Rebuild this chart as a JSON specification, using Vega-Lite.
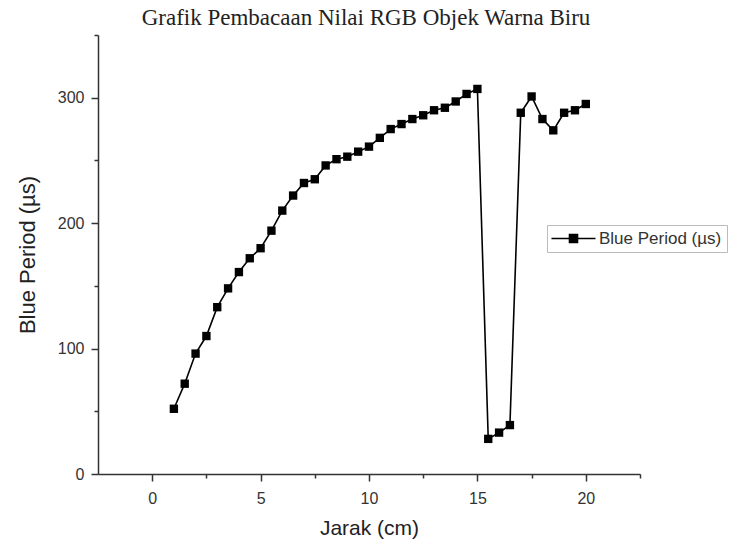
{
  "$schema": "https://vega.github.io/schema/vega-lite/v6.json",
  "width": 542,
  "height": 439,
  "autosize": "none",
  "padding": {"left": 98, "top": 35, "right": 91, "bottom": 69},
  "background": "white",
  "title": {
    "text": "Grafik Pembacaan Nilai RGB Objek Warna Biru",
    "font": "Liberation Serif",
    "fontSize": 23,
    "fontWeight": "normal",
    "color": "#222222",
    "anchor": "middle",
    "offset": 4,
    "dx": -3
  },
  "config": {
    "view": {"stroke": null},
    "axis": {
      "grid": false,
      "domainColor": "#333333",
      "domainWidth": 1.5,
      "tickColor": "#333333",
      "tickWidth": 1.5,
      "labelColor": "#333333",
      "labelFont": "Liberation Sans",
      "labelFontSize": 16,
      "titleColor": "#222222",
      "titleFont": "Liberation Sans",
      "titleFontWeight": "normal"
    }
  },
  "data": {
    "values": [
      {"jarak": 1, "blue": 52},
      {"jarak": 1.5, "blue": 72},
      {"jarak": 2, "blue": 96},
      {"jarak": 2.5, "blue": 110},
      {"jarak": 3, "blue": 133},
      {"jarak": 3.5, "blue": 148},
      {"jarak": 4, "blue": 161},
      {"jarak": 4.5, "blue": 172},
      {"jarak": 5, "blue": 180},
      {"jarak": 5.5, "blue": 194},
      {"jarak": 6, "blue": 210},
      {"jarak": 6.5, "blue": 222},
      {"jarak": 7, "blue": 232},
      {"jarak": 7.5, "blue": 235},
      {"jarak": 8, "blue": 246},
      {"jarak": 8.5, "blue": 251},
      {"jarak": 9, "blue": 253},
      {"jarak": 9.5, "blue": 257},
      {"jarak": 10, "blue": 261},
      {"jarak": 10.5, "blue": 268},
      {"jarak": 11, "blue": 275},
      {"jarak": 11.5, "blue": 279},
      {"jarak": 12, "blue": 283},
      {"jarak": 12.5, "blue": 286},
      {"jarak": 13, "blue": 290},
      {"jarak": 13.5, "blue": 292},
      {"jarak": 14, "blue": 297},
      {"jarak": 14.5, "blue": 303},
      {"jarak": 15, "blue": 307},
      {"jarak": 15.5, "blue": 28},
      {"jarak": 16, "blue": 33},
      {"jarak": 16.5, "blue": 39},
      {"jarak": 17, "blue": 288},
      {"jarak": 17.5, "blue": 301},
      {"jarak": 18, "blue": 283},
      {"jarak": 18.5, "blue": 274},
      {"jarak": 19, "blue": 288},
      {"jarak": 19.5, "blue": 290},
      {"jarak": 20, "blue": 295}
    ]
  },
  "encoding": {
    "x": {
      "field": "jarak",
      "type": "quantitative",
      "scale": {"domain": [-2.5, 22.5], "nice": false, "zero": false},
      "axis": {
        "title": "Jarak (cm)",
        "titleFontSize": 21,
        "titlePadding": 11,
        "values": [0, 2.5, 5, 7.5, 10, 12.5, 15, 17.5, 20, 22.5],
        "labelExpr": "datum.value % 5 === 0 ? datum.label : ''",
        "tickSize": {"condition": {"test": "datum.value % 5 === 0", "value": 7}, "value": 4},
        "labelPadding": 9
      }
    },
    "y": {
      "field": "blue",
      "type": "quantitative",
      "scale": {"domain": [0, 350], "nice": false},
      "axis": {
        "title": "Blue Period (µs)",
        "titleFontSize": 22,
        "titlePadding": 18,
        "values": [0, 50, 100, 150, 200, 250, 300, 350],
        "labelExpr": "datum.value % 100 === 0 ? datum.label : ''",
        "tickSize": {"condition": {"test": "datum.value % 100 === 0", "value": 7}, "value": 4},
        "labelPadding": 7
      }
    }
  },
  "layer": [
    {
      "mark": {"type": "line", "strokeWidth": 1.6},
      "encoding": {
        "color": {
          "datum": "Blue Period (µs)",
          "type": "nominal",
          "scale": {"range": ["black"]},
          "legend": {
            "title": null,
            "orient": "none",
            "legendX": 449,
            "legendY": 190,
            "padding": 5,
            "strokeColor": "#bbbbbb",
            "fillColor": "white",
            "symbolType": "M-4.4,0H4.4M-0.8,-0.8H0.8V0.8H-0.8Z",
            "symbolSize": 100,
            "symbolOffset": 13,
            "symbolStrokeWidth": 1.6,
            "symbolFillColor": "black",
            "symbolStrokeColor": "black",
            "labelFont": "Liberation Sans",
            "labelFontSize": 17,
            "labelColor": "#333333",
            "labelOffset": 17
          }
        }
      }
    },
    {
      "mark": {"type": "point", "shape": "square", "filled": true, "size": 70, "color": "black", "opacity": 1}
    }
  ]
}
